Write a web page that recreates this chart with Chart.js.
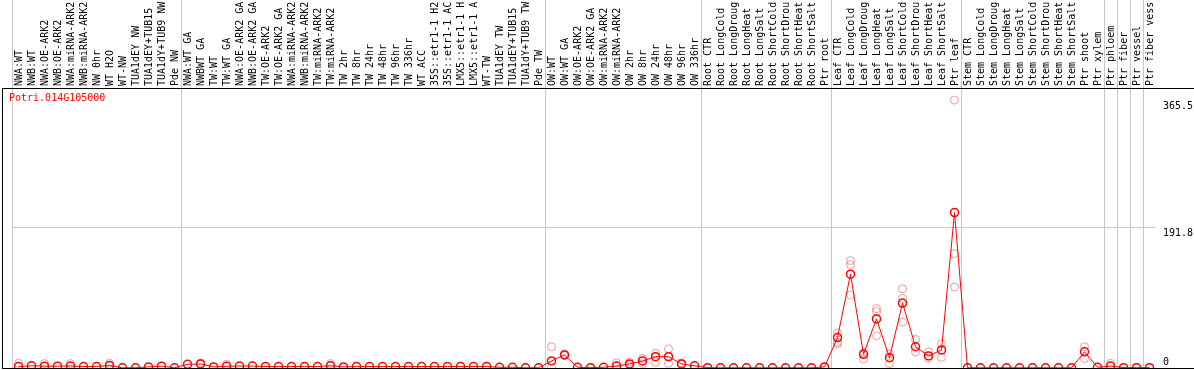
<!DOCTYPE html>
<html>
<head>
<meta charset="utf-8">
<script src="https://cdn.jsdelivr.net/npm/chart.js@4/dist/chart.umd.min.js"></script>
<style>
  html, body { margin: 0; padding: 0; background: #fff; }
  #wrap { width: 1194px; height: 370px; }
</style>
</head>
<body>
<div id="wrap"><canvas id="ExprPlot"></canvas></div>
<script>
const geneName = "Potri.014G105000";

const sampleLabels = [
  "NWA:WT", "NWB:WT", "NWA:OE-ARK2", "NWB:OE-ARK2", "NWA:miRNA-ARK2", "NWB:miRNA-ARK2",
  "NW 0hr", "WT H2O", "WT-NW", "TUA1dEY NW", "TUA1dEY+TUB15", "TUA1dY+TUB9 NW", "Pde NW",
  "NWA:WT GA", "NWBWT GA", "TW:WT", "TW:WT GA", "NWA:OE-ARK2 GA", "NWB:OE-ARK2 GA",
  "TW:OE-ARK2", "TW:OE-ARK2 GA", "NWA:miRNA-ARK2", "NWB:miRNA-ARK2", "TW:miRNA-ARK2",
  "TW:miRNA-ARK2", "TW 2hr", "TW 8hr", "TW 24hr", "TW 48hr", "TW 96hr", "TW 336hr",
  "WT ACC", "35S::etr1-1 H2", "35S::etr1-1 AC", "LMX5::etr1-1 H", "LMX5::etr1-1 A",
  "WT-TW", "TUA1dEY TW", "TUA1dEY+TUB15", "TUA1dY+TUB9 TW", "Pde TW",
  "OW:WT", "OW:WT GA", "OW:OE-ARK2", "OW:OE-ARK2 GA", "OW:miRNA-ARK2", "OW:miRNA-ARK2",
  "OW 2hr", "OW 8hr", "OW 24hr", "OW 48hr", "OW 96hr", "OW 336hr",
  "Root CTR", "Root LongCold", "Root LongDroug", "Root LongHeat", "Root LongSalt",
  "Root ShortCold", "Root ShortDrou", "Root ShortHeat", "Root ShortSalt", "Ptr root",
  "Leaf CTR", "Leaf LongCold", "Leaf LongDroug", "Leaf LongHeat", "Leaf LongSalt",
  "Leaf ShortCold", "Leaf ShortDrou", "Leaf ShortHeat", "Leaf ShortSalt", "Ptr leaf",
  "Stem CTR", "Stem LongCold", "Stem LongDroug", "Stem LongHeat", "Stem LongSalt",
  "Stem ShortCold", "Stem ShortDrou", "Stem ShortHeat", "Stem ShortSalt", "Ptr shoot",
  "Ptr xylem", "Ptr phloem", "Ptr fiber", "Ptr vessel", "Ptr fiber vess"
];

// mean expression per sample
const meanValues = [
  2, 3, 2.5, 2.5, 2.7, 2, 2, 3.5, 0.3, 0.3, 1.5, 2.5, 0.3,
  5, 5.5, 1.5, 2.3, 2.7, 2.7, 2, 2, 2,
  2, 2, 3, 1.5, 2, 2, 2, 2, 2, 2, 2, 2, 2, 2, 2, 1, 1, 0.3, 0.3,
  9.6, 17.8, 1, 0.5, 1, 2.7, 5.5, 9.6, 15.5, 15.5, 5.5, 3,
  0.5, 0.3, 0.3, 0.3, 0.3, 0.3, 0.3, 0.3, 0.3, 1.5,
  41.5, 128, 18.7, 67, 14, 88.6, 29, 16.4, 24.7, 212,
  0.3, 0.3, 0.3, 0.3, 0.3, 0.3, 0.3, 0.3, 0.3, 22,
  1, 2.7, 0.5, 0.5, 0.5
];

// individual replicates (null where hidden behind the mean)
const rep1 = [
  6.4, null, 6, null, 6, null, null, 6.4, null, null, null, null, null,
  null, 7, null, 5, null, null, null, null, null, null, null, 6, null, null, null,
  null, null, null, null, null, null, null, null, null, null, null, null, null,
  29, 19, null, null, null, 7, 8, 13, 20, 26, 7, null,
  null, null, null, null, null, null, null, null, null, null,
  48, 146.6, 21, 81, 19, 108, 39, 22, 33, 365.5,
  null, null, null, null, null, null, null, null, null, 29,
  null, 6.4, null, null, null
];
const rep2 = [
  null, null, null, null, null, null, null, null, null, null, null, null, null,
  null, null, null, null, null, null, null, null, null, null, null, null, null, null,
  null, null, null, null, null, null, null, null, null, null, null, null, null, null,
  2, 17, null, null, null, null, 3, 6, 8, 6.4, null, null,
  null, null, null, null, null, null, null, null, null, null,
  33, 141, 12, 77, 6, 95, 22, 13, 14.6, 156,
  null, null, null, null, null, null, null, null, null, 13,
  null, null, null, null, null
];
const rep3 = [
  null, null, null, null, null, null, null, null, null, null, null, null, null,
  null, null, null, null, null, null, null, null, null, null, null, null, null, null,
  null, null, null, null, null, null, null, null, null, null, null, null, null, null,
  null, null, null, null, null, null, null, null, null, null, null, null,
  null, null, null, null, null, null, null, null, null, null,
  35, 99.5, null, 44, null, 62.5, null, null, null, 110.5,
  null, null, null, null, null, null, null, null, null, null,
  null, null, null, null, null
];

const yTicks = [0, 191.8, 365.5];
// grid lines sit before these sample indices
const groupEdges = [0, 13, 41, 53, 63, 73, 84, 85, 86, 87, 88];

const monoFont = { family: "DejaVu Sans Mono", size: 10 };
const gridGray = "#c8c8c8";

const edgeColor = c => groupEdges.includes(c.index) ? gridGray : "rgba(0,0,0,0)";

const frame = {
  id: "frame",
  afterDraw(chart) {
    const { ctx, chartArea } = chart;
    const x0 = chartArea.left - 10;
    ctx.save();
    ctx.strokeStyle = "#000";
    ctx.lineWidth = 1;
    ctx.beginPath();
    ctx.moveTo(x0 + 0.5, chartArea.top);
    ctx.lineTo(x0 + 0.5, chartArea.bottom);
    ctx.moveTo(x0, chartArea.top + 0.5);
    ctx.lineTo(chart.width, chartArea.top + 0.5);
    ctx.moveTo(x0, chartArea.bottom + 0.5);
    ctx.lineTo(chart.width, chartArea.bottom + 0.5);
    ctx.stroke();
    ctx.fillStyle = "red";
    ctx.font = "10px 'DejaVu Sans Mono'";
    ctx.textBaseline = "middle";
    ctx.fillText(chart.data.datasets[0].label, chartArea.left - 3, chartArea.top + 10);
    ctx.restore();
  }
};

const repStyle = {
  showLine: false,
  pointRadius: 4,
  pointBorderWidth: 1,
  pointBorderColor: "rgba(235,120,120,0.75)",
  pointBackgroundColor: "rgba(0,0,0,0)"
};

new Chart(document.getElementById("ExprPlot"), {
  type: "line",
  data: {
    labels: sampleLabels,
    datasets: [
      {
        label: geneName,
        data: meanValues,
        borderColor: "red",
        borderWidth: 1,
        tension: 0,
        pointRadius: 4,
        pointBorderWidth: 1.5,
        pointBorderColor: "red",
        pointBackgroundColor: "rgba(0,0,0,0)"
      },
      { label: "rep1", data: rep1, ...repStyle },
      { label: "rep2", data: rep2, ...repStyle },
      { label: "rep3", data: rep3, ...repStyle }
    ]
  },
  options: {
    responsive: true,
    maintainAspectRatio: false,
    animation: false,
    layout: { autoPadding: false, padding: { left: 12, right: 0, top: 0, bottom: 2 } },
    plugins: { legend: { display: false }, tooltip: { enabled: false } },
    scales: {
      x: {
        type: "category",
        position: "top",
        offset: true,
        grid: { offset: true, color: edgeColor, tickColor: edgeColor, tickLength: 88 },
        border: { display: false },
        ticks: {
          autoSkip: false, minRotation: 90, maxRotation: 90, padding: -86,
          labelOffset: 13, color: "#000", font: monoFont
        },
        afterFit: s => { s.height = 88; }
      },
      y: {
        position: "right",
        min: 0,
        max: 382,
        afterBuildTicks: s => { s.ticks = yTicks.map(v => ({ value: v })); },
        grid: {
          color: c => c.tick.value === 191.8 ? gridGray : "rgba(0,0,0,0)",
          drawTicks: false
        },
        border: { display: false },
        ticks: {
          padding: 7, color: "#000", font: monoFont,
          callback: v => v === 0 ? ["0", ""] : ["", String(v)]
        },
        afterFit: s => { s.width = 38; s.paddingTop = 0; s.paddingBottom = 0; }
      }
    }
  },
  plugins: [frame]
});
</script>
</body>
</html>
